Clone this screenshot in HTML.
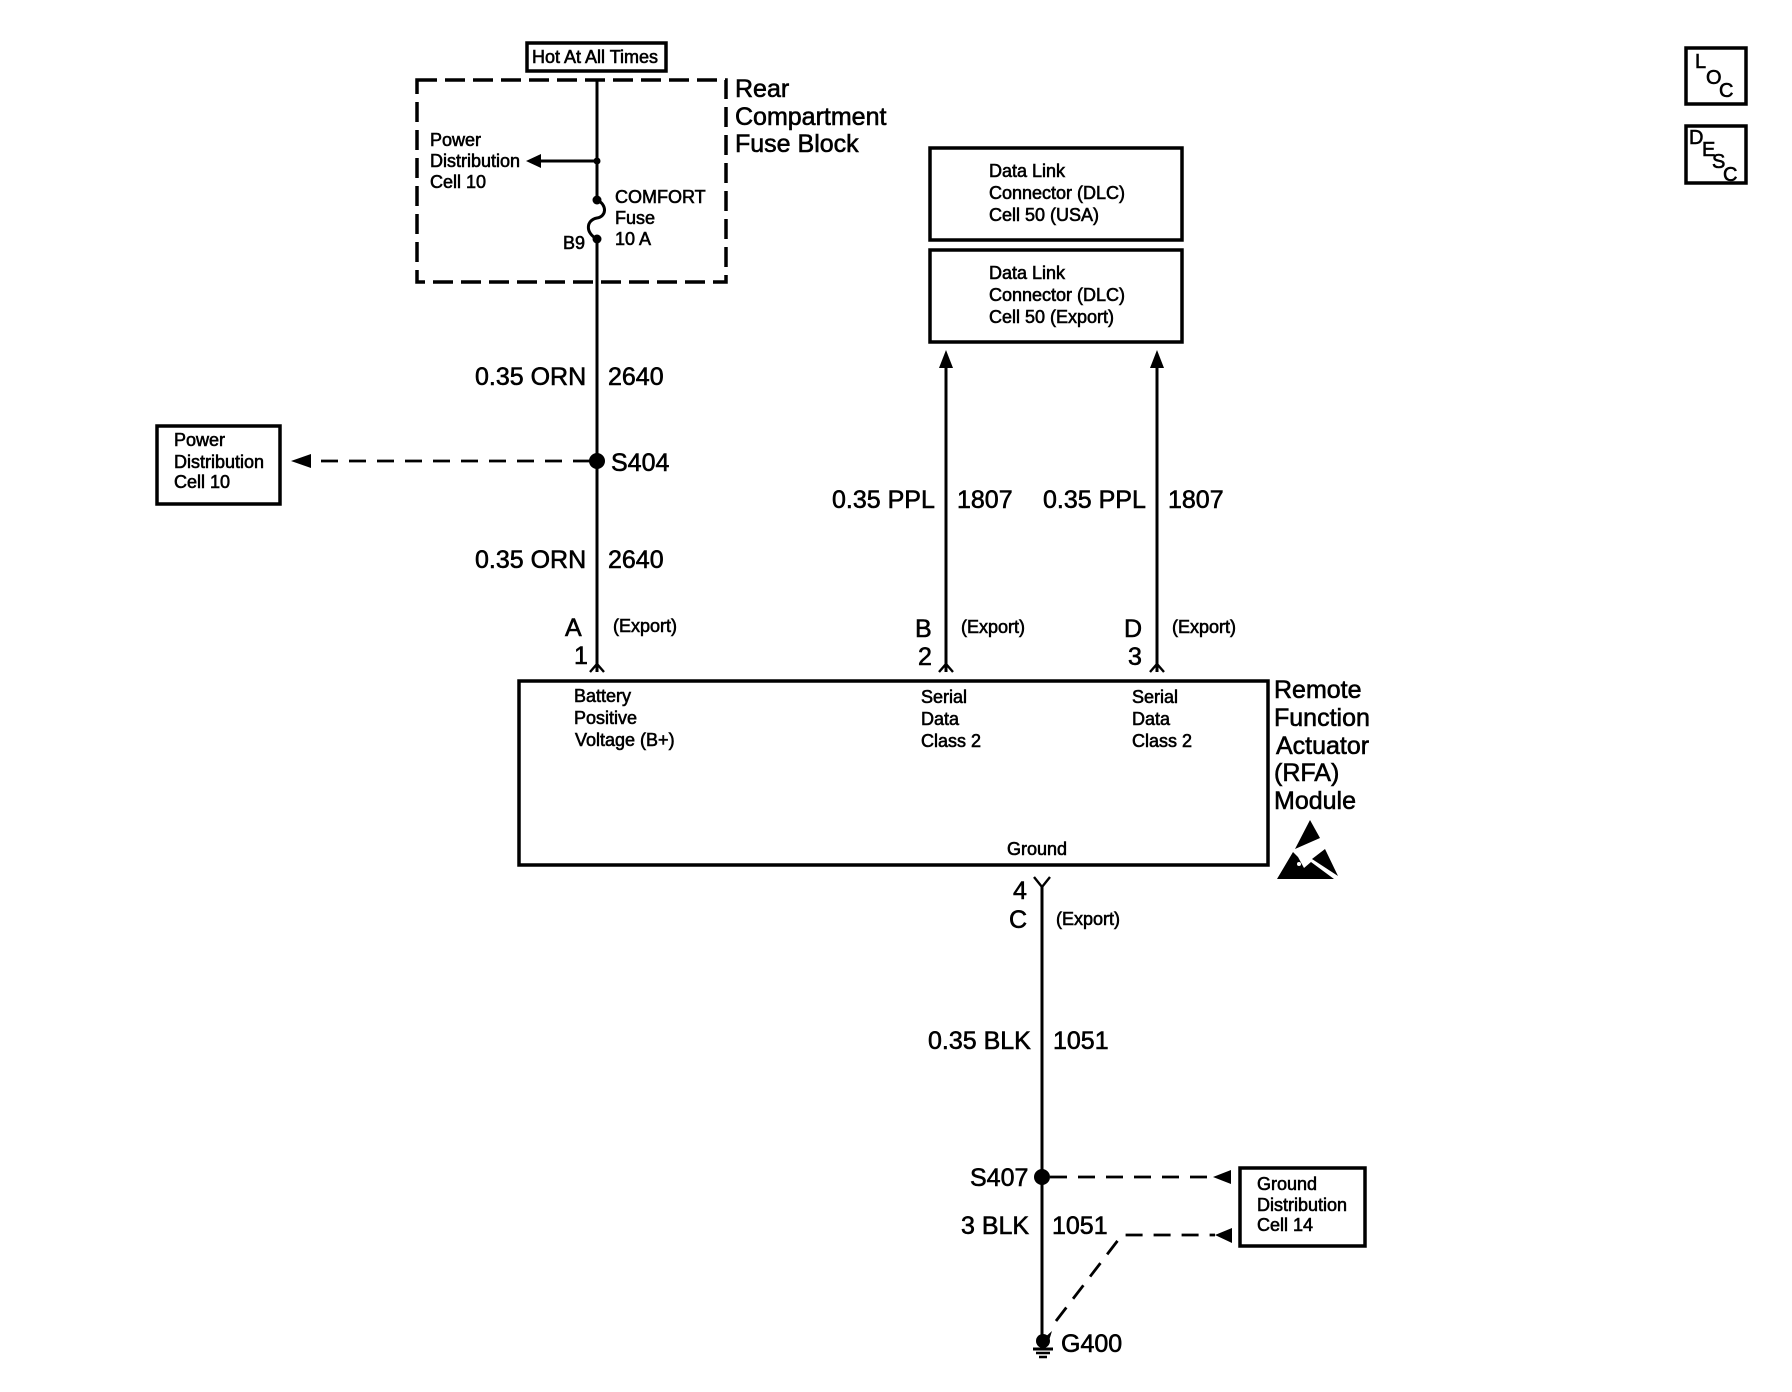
<!DOCTYPE html>
<html lang="en">
<head>
<meta charset="utf-8">
<title>Remote Function Actuator Wiring Diagram</title>
<style>
html,body{margin:0;padding:0;background:#fff}
svg{display:block}
text{font-family:"Liberation Sans",sans-serif;fill:#000;stroke:#000;stroke-width:.6px}
.s{font-size:18px}
.m{font-size:25px}
.l{font-size:25px}
.b{fill:none;stroke:#000;stroke-width:3.5}
.w{fill:none;stroke:#000;stroke-width:3}
.d{fill:none;stroke:#000;stroke-width:2.8;stroke-dasharray:17 11}
.t{fill:none;stroke:#000;stroke-width:2.4}
</style>
</head>
<body>
<svg width="1792" height="1392" viewBox="0 0 1792 1392" xmlns="http://www.w3.org/2000/svg">
<rect width="1792" height="1392" fill="#fff"/>

<!-- Fuse block -->
<rect class="b" x="527" y="43" width="139" height="28"/>
<text class="s" x="532" y="63">Hot At All Times</text>
<rect x="417" y="80" width="309" height="202" fill="none" stroke="#000" stroke-width="3.5" stroke-dasharray="20 8"/>
<text class="l" x="735" y="97">Rear</text>
<text class="l" x="735" y="125">Compartment</text>
<text class="l" x="735" y="152">Fuse Block</text>
<path class="w" d="M597 80V200M597 239V672"/>
<path class="w" d="M597 161H538"/>
<path d="M526 161L541 154V168Z"/>
<circle cx="597" cy="161" r="3.5"/>
<path class="w" d="M597 200C608 205 606 217 597 218C586 220 585 233 597 239"/>
<circle cx="597" cy="200" r="4.5"/>
<circle cx="597" cy="239" r="4.5"/>
<text class="s" x="430" y="146">Power</text>
<text class="s" x="430" y="167">Distribution</text>
<text class="s" x="430" y="188">Cell 10</text>
<text class="s" x="615" y="203">COMFORT</text>
<text class="s" x="615" y="224">Fuse</text>
<text class="s" x="615" y="245">10 A</text>
<text class="s" x="563" y="249">B9</text>

<!-- Battery wire -->
<text class="m" x="475" y="385">0.35 ORN</text>
<text class="m" x="608" y="385">2640</text>
<circle cx="597" cy="461" r="8"/>
<text class="m" x="611" y="471">S404</text>
<path class="d" d="M590 461H316"/>
<path d="M291 461L311 454V468Z"/>
<rect class="b" x="157" y="426" width="123" height="78"/>
<text class="s" x="174" y="446">Power</text>
<text class="s" x="174" y="468">Distribution</text>
<text class="s" x="174" y="488">Cell 10</text>
<text class="m" x="475" y="568">0.35 ORN</text>
<text class="m" x="608" y="568">2640</text>
<text class="m" x="565" y="636">A</text>
<text class="m" x="574" y="664">1</text>
<text class="s" x="613" y="632">(Export)</text>
<path class="t" d="M590 672L597 664L604 672"/>

<!-- DLC boxes -->
<rect class="b" x="930" y="148" width="252" height="92"/>
<rect class="b" x="930" y="250" width="252" height="92"/>
<text class="s" x="989" y="177">Data Link</text>
<text class="s" x="989" y="199">Connector (DLC)</text>
<text class="s" x="989" y="221">Cell 50 (USA)</text>
<text class="s" x="989" y="279">Data Link</text>
<text class="s" x="989" y="301">Connector (DLC)</text>
<text class="s" x="989" y="323">Cell 50 (Export)</text>

<!-- Serial wires -->
<path class="w" d="M946 365V672M1157 365V672"/>
<path d="M946 350L953 368H939Z"/>
<path d="M1157 350L1164 368H1150Z"/>
<text class="m" x="832" y="508">0.35 PPL</text>
<text class="m" x="957" y="508">1807</text>
<text class="m" x="1043" y="508">0.35 PPL</text>
<text class="m" x="1168" y="508">1807</text>
<text class="m" x="915" y="637">B</text>
<text class="m" x="918" y="665">2</text>
<text class="s" x="961" y="633">(Export)</text>
<text class="m" x="1124" y="637">D</text>
<text class="m" x="1128" y="665">3</text>
<text class="s" x="1172" y="633">(Export)</text>
<path class="t" d="M939 672L946 664L953 672M1150 672L1157 664L1164 672"/>

<!-- RFA module -->
<rect class="b" x="519" y="681" width="749" height="184"/>
<text class="s" x="574" y="702">Battery</text>
<text class="s" x="574" y="724">Positive</text>
<text class="s" x="575" y="746">Voltage (B+)</text>
<text class="s" x="921" y="703">Serial</text>
<text class="s" x="921" y="725">Data</text>
<text class="s" x="921" y="747">Class 2</text>
<text class="s" x="1132" y="703">Serial</text>
<text class="s" x="1132" y="725">Data</text>
<text class="s" x="1132" y="747">Class 2</text>
<text class="s" x="1007" y="855">Ground</text>
<text class="l" x="1274" y="698">Remote</text>
<text class="l" x="1274" y="726">Function</text>
<text class="l" x="1276" y="754">Actuator</text>
<text class="l" x="1274" y="781">(RFA)</text>
<text class="l" x="1274" y="809">Module</text>
<!-- ESD symbol -->
<path d="M1310 820L1320 838L1295 849Z"/>
<path d="M1293 852L1277 879H1334L1311 862L1304 868L1298 857Z"/>
<path d="M1325 849L1338 876L1312 859Z"/>
<circle cx="1299" cy="864" r="2" fill="#fff"/>

<!-- Ground wire -->
<path class="t" d="M1034 877L1042 887L1050 877"/>
<path class="w" d="M1042 885V1336"/>
<text class="m" x="1013" y="899">4</text>
<text class="m" x="1009" y="928">C</text>
<text class="s" x="1056" y="925">(Export)</text>
<text class="m" x="928" y="1049">0.35 BLK</text>
<text class="m" x="1053" y="1049">1051</text>
<circle cx="1042" cy="1177" r="8"/>
<text class="m" x="970" y="1186">S407</text>
<text class="m" x="961" y="1234">3 BLK</text>
<text class="m" x="1052" y="1234">1051</text>
<path class="d" d="M1050 1177H1214"/>
<path d="M1213 1177L1231 1170V1184Z"/>
<path class="d" d="M1056 1321L1122 1235H1215"/>
<path d="M1215 1235L1232 1228V1243Z"/>
<rect class="b" x="1240" y="1168" width="125" height="78"/>
<text class="s" x="1257" y="1190">Ground</text>
<text class="s" x="1257" y="1211">Distribution</text>
<text class="s" x="1257" y="1231">Cell 14</text>
<circle cx="1043" cy="1341" r="7"/>
<path d="M1042 1340L1052 1331L1048 1344Z"/>
<path class="w" d="M1033 1349H1053"/>
<path class="t" d="M1036 1353H1050M1039 1357H1047"/>
<text class="m" x="1061" y="1352">G400</text>

<!-- LOC / DESC -->
<rect class="b" x="1686" y="48" width="60" height="56"/>
<rect class="b" x="1686" y="126" width="60" height="57"/>
<g style="font-size:20px">
<text x="1695" y="68">L</text>
<text x="1706" y="84">O</text>
<text x="1719" y="97">C</text>
<text x="1689" y="144">D</text>
<text x="1702" y="156">E</text>
<text x="1712" y="168">S</text>
<text x="1723" y="181">C</text>
</g>
</svg>
</body>
</html>
